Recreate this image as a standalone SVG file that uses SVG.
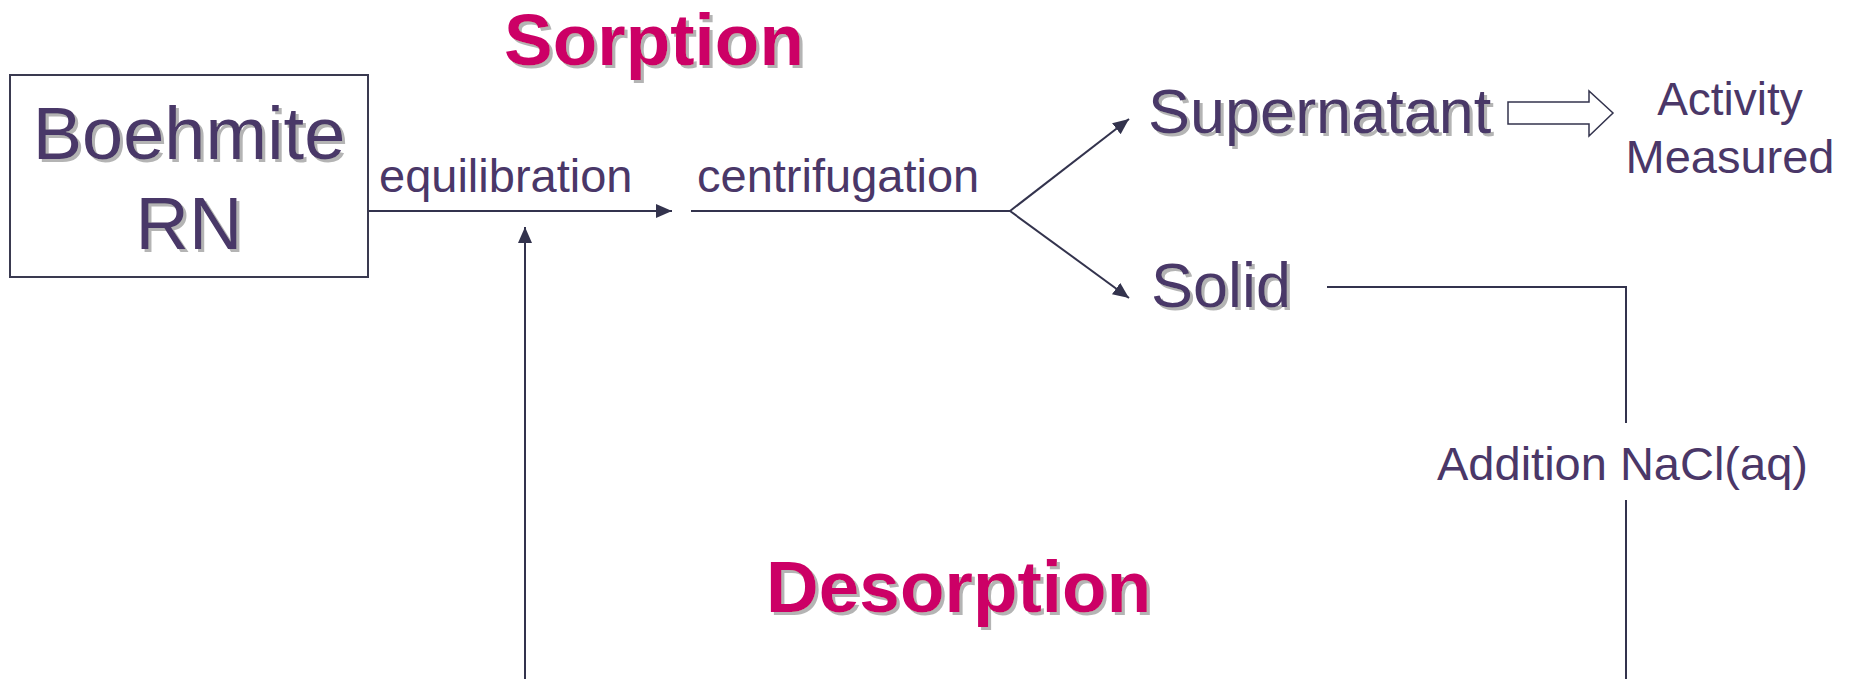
<svg xmlns="http://www.w3.org/2000/svg" width="1851" height="679" viewBox="0 0 1851 679">
<defs>
<style>
.t{font-family:"Liberation Sans",Arial,sans-serif;fill:#4a3768}
.h{font-family:"Liberation Sans",Arial,sans-serif;font-weight:bold;fill:#cc0066;font-size:73px}
.ln{stroke:#33334d;stroke-width:2;fill:none}
</style>
<filter id="sh" x="-5%" y="-10%" width="115%" height="130%">
<feFlood flood-color="#b4b4b4" result="c"/>
<feComposite in="c" in2="SourceAlpha" operator="in" result="s"/>
<feOffset in="s" dx="3" dy="3" result="o"/>
<feMerge><feMergeNode in="o"/><feMergeNode in="SourceGraphic"/></feMerge>
</filter>
<marker id="ah" markerUnits="userSpaceOnUse" markerWidth="18" markerHeight="16" refX="16" refY="7" orient="auto">
<path d="M0,0 L16,7 L0,14 z" fill="#33334d"/>
</marker>
</defs>
<rect width="1851" height="679" fill="#ffffff"/>
<g id="connectors">
<line class="ln" x1="368" y1="211" x2="672" y2="211" marker-end="url(#ah)"/>
<line class="ln" x1="691" y1="211" x2="1010" y2="211"/>
<line class="ln" x1="1010" y1="211" x2="1129" y2="119" marker-end="url(#ah)"/>
<line class="ln" x1="1010" y1="211" x2="1129" y2="298" marker-end="url(#ah)"/>
<polyline class="ln" points="1327,287 1626,287 1626,423"/>
<line class="ln" x1="1626" y1="500" x2="1626" y2="679"/>
<line class="ln" x1="525" y1="679" x2="525" y2="227" marker-end="url(#ah)"/>
<polygon points="1508,102 1589,102 1589,91 1613,113 1589,136 1589,124 1508,124" fill="#ffffff" stroke="#33334d" stroke-width="1.5"/>
</g>
<g id="title-sorption"><text class="h" x="504" y="65" filter="url(#sh)">Sorption</text></g>
<g id="title-desorption"><text class="h" x="766" y="612" filter="url(#sh)">Desorption</text></g>
<g id="boehmite">
<rect x="10" y="75" width="358" height="202" fill="#ffffff" stroke="#3a3a50" stroke-width="2"/>
<text class="t" x="189" y="159" font-size="74" text-anchor="middle" filter="url(#sh)">Boehmite</text>
<text class="t" x="189" y="249" font-size="74" text-anchor="middle" filter="url(#sh)">RN</text>
</g>
<g id="label-equilibration"><text class="t" x="379" y="192" font-size="47">equilibration</text></g>
<g id="label-centrifugation"><text class="t" x="697" y="192" font-size="47">centrifugation</text></g>
<g id="supernatant"><text class="t" x="1148" y="133" font-size="63" filter="url(#sh)">Supernatant</text></g>
<g id="solid"><text class="t" x="1151" y="307" font-size="63" filter="url(#sh)">Solid</text></g>
<g id="activity">
<text class="t" x="1730" y="115" font-size="46" text-anchor="middle">Activity</text>
<text class="t" x="1730" y="173" font-size="47" text-anchor="middle">Measured</text>
</g>
<g id="label-nacl"><text class="t" x="1437" y="480" font-size="47">Addition NaCl(aq)</text></g>
</svg>
